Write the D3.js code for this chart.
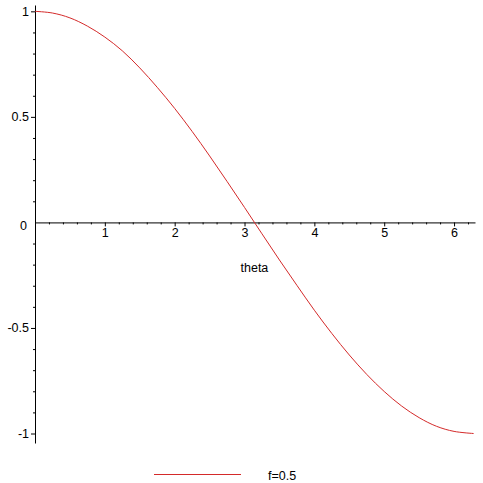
<!DOCTYPE html>
<html>
<head>
<meta charset="utf-8">
<script src="https://cdn.jsdelivr.net/npm/d3@7"></script>
<style>
  body { margin: 0; background: #fff; }
  svg { display: block; font-family: "Liberation Sans", Arial, sans-serif; }
</style>
</head>
<body>
<div class="plot"></div>
<script>
// values
const theta = [0, 0.25, 0.5, 0.75, 1.0, 1.25, 1.5, 1.75, 2.0, 2.25, 2.5, 2.75, 3.0,
               3.25, 3.5, 3.75, 4.0, 4.25, 4.5, 4.75, 5.0, 5.25, 5.5, 5.75, 6.0, 6.28];
const curveValues = [1.0, 0.992, 0.969, 0.930, 0.878, 0.813, 0.732, 0.640, 0.540, 0.431, 0.315, 0.194, 0.071,
                     -0.054, -0.178, -0.298, -0.416, -0.526, -0.628, -0.720, -0.801, -0.870, -0.925, -0.966, -0.990, -1.0];
const xTicks = [1, 2, 3, 4, 5, 6];
const yTicks = [-1, -0.5, 0, 0.5, 1];
const yTickLabels = ["-1", "-0.5", "0", "0.5", "1"];
const xLabel = "theta";
const legendLabel = "f=0.5";

const width = 483, height = 483;
const red = "#d42a2a";
const fontSize = "12.5px";

const svg = d3.select(".plot")
    .append("svg")
        .attr("width", width)
        .attr("height", height);

svg.append("rect").attr("width", width).attr("height", height).attr("fill", "#fff");

const x = d3.scaleLinear().domain([0, 6.3]).range([35, 475]);
const y = d3.scaleLinear().domain([-1.045, 1.03]).range([443, 5]);

const xMinor = d3.range(2, 63, 2).map(d => d / 10).filter(d => !xTicks.includes(d));
const yMinor = d3.range(-10, 11).map(d => d / 10).filter(d => !yTicks.includes(d));

/* x axis */
const gx = svg.append("g").attr("transform", "translate(0," + y(0) + ")");
gx.call(d3.axisBottom(x).tickValues(xTicks).tickFormat(d3.format("d"))
          .tickSize(4).tickSizeOuter(0).tickPadding(2));
gx.append("g").call(d3.axisBottom(x).tickValues(xMinor).tickFormat("")
          .tickSize(2).tickSizeOuter(0))
  .select(".domain").remove();

/* y axis */
const gy = svg.append("g").attr("transform", "translate(" + x(0) + ",0)");
gy.call(d3.axisLeft(y).tickValues(yTicks).tickFormat((d, i) => yTickLabels[i])
          .tickSize(4).tickSizeOuter(0).tickPadding(2));
gy.append("g").call(d3.axisLeft(y).tickValues(yMinor).tickFormat("")
          .tickSize(2).tickSizeOuter(0))
  .select(".domain").remove();

// the zero label sits just below the x axis, no tick there
gy.selectAll(".tick").filter(d => d === 0)
  .each(function() {
      d3.select(this).select("line").remove();
      d3.select(this).select("text").attr("dy", "0.55em").attr("x", -8);
  });

svg.selectAll(".tick text")
   .attr("font-size", fontSize)
   .attr("font-family", "'Liberation Sans', Arial, sans-serif")
   .attr("fill", "#000");
svg.selectAll(".domain, .tick line").attr("stroke", "#000");

/* x label */
svg.append("text")
   .attr("x", x(Math.PI))
   .attr("y", 272)
   .attr("text-anchor", "middle")
   .attr("font-size", fontSize)
   .text(xLabel);

/* curve */
const points = theta.map((t, i) => [t, curveValues[i]]);
const line = d3.line()
               .x(d => x(d[0]))
               .y(d => y(d[1]))
               .curve(d3.curveCatmullRom);

svg.append("path")
   .datum(points)
   .attr("d", line)
   .attr("fill", "none")
   .attr("stroke", red)
   .attr("stroke-width", 1);

/* legend */
svg.append("line")
   .attr("x1", 154).attr("x2", 241)
   .attr("y1", 474.5).attr("y2", 474.5)
   .attr("stroke", red)
   .attr("stroke-width", 1);

svg.append("text")
   .attr("x", 268)
   .attr("y", 479.5)
   .attr("font-size", fontSize)
   .text(legendLabel);
</script>
</body>
</html>
